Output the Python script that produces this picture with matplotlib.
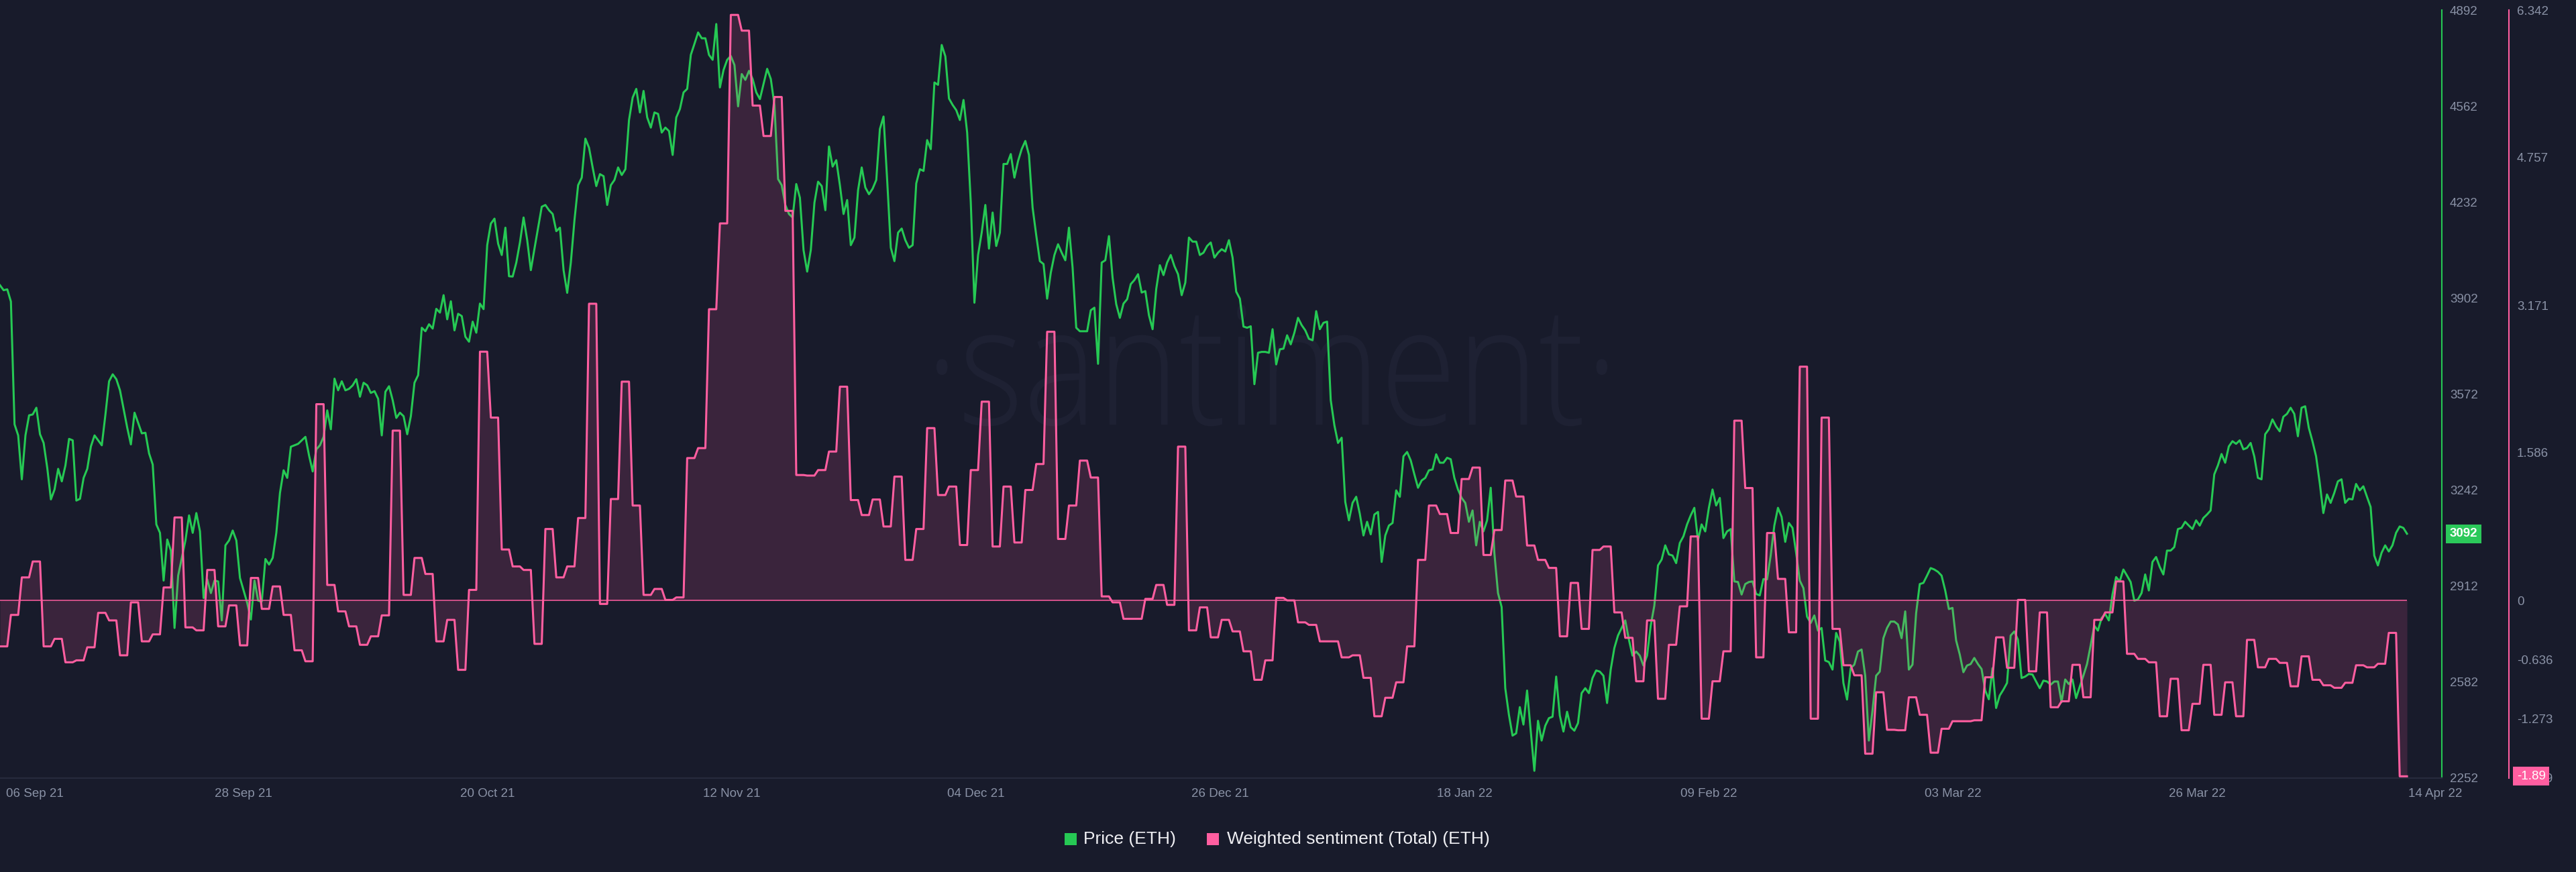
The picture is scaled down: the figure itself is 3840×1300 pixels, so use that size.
import numpy as np
import pandas as pd
import matplotlib
matplotlib.use("Agg")
import matplotlib.pyplot as plt
import matplotlib.dates as mdates
from matplotlib.textpath import TextPath
from matplotlib.font_manager import FontProperties
from matplotlib.patches import PathPatch, Rectangle
from matplotlib.transforms import Affine2D, IdentityTransform, blended_transform_factory

# ---------------- data ----------------
start_time = "2021-09-05 20:00"
step = "8h"

price = [
    3946, 3929, 3932, 3890, 3468, 3430, 3279, 3430, 3499, 3502,
    3525, 3434, 3404, 3318, 3210, 3244, 3315, 3272, 3327, 3418,
    3413, 3206, 3212, 3284, 3315, 3392, 3430, 3413, 3396, 3502,
    3616, 3640, 3623, 3585, 3520, 3456, 3399, 3508, 3473, 3437,
    3439, 3368, 3330, 3124, 3095, 2931, 3072, 3034, 2768, 2948,
    3009, 3069, 3155, 3095, 3163, 3100, 2871, 2935, 2888, 2931,
    2928, 2794, 3052, 3069, 3103, 3069, 2940, 2897, 2854, 2797,
    2931, 2862, 2859, 3005, 2986, 3009, 3095, 3232, 3310, 3284,
    3391, 3396, 3401, 3413, 3425, 3361, 3306, 3382, 3396, 3425,
    3516, 3451, 3625, 3585, 3616, 3585, 3590, 3602, 3623, 3563,
    3611, 3602, 3576, 3582, 3556, 3430, 3580, 3599, 3551, 3490,
    3508, 3496, 3434, 3496, 3611, 3637, 3800, 3788, 3812, 3797,
    3865, 3852, 3912, 3829, 3891, 3791, 3848, 3840, 3769, 3752,
    3821, 3783, 3883, 3864, 4084, 4158, 4175, 4089, 4050, 4144,
    3977, 3976, 4024, 4093, 4179, 4101, 3998, 4072, 4144, 4216,
    4222, 4204, 4191, 4132, 4144, 3998, 3920, 4024, 4170, 4290,
    4316, 4450, 4419, 4351, 4287, 4328, 4321, 4222, 4290,
    # ---
    4308, 4351, 4325, 4345, 4514, 4591, 4621, 4540, 4614,
    4523, 4488, 4540, 4535, 4471, 4488, 4476, 4394, 4523, 4552,
    4609, 4621, 4738, 4776, 4815, 4795, 4795, 4738, 4721, 4844,
    4626, 4686, 4721, 4734, 4703, 4561, 4672, 4652, 4683, 4655,
    4609, 4586, 4638, 4690, 4655, 4566, 4311, 4290, 4222, 4191,
    4179, 4294, 4247, 4067, 3993, 4067, 4230, 4302, 4287, 4204,
    4423, 4354, 4376, 4290, 4191, 4239, 4084, 4110, 4273, 4351,
    4282, 4259, 4278, 4308, 4483, 4526, 4308, 4075, 4029, 4127,
    4141, 4101, 4075, 4084, 4296, 4345, 4339, 4445, 4414, 4643,
    4635, 4772, 4733, 4588, 4566, 4548, 4514, 4583, 4471, 4230,
    3886, 4050, 4127, 4222, 4072, 4196, 4081, 4127, 4363, 4363,
    4397, 4316, 4373, 4414, 4442, 4394, 4213, 4118, 4029, 4019,
    3900, 3989, 4050, 4087, 4058, 4032, 4144, 4007, 3800, 3788,
    3788, 3788, 3860, 3869, 3676, 4024, 4032, 4115, 3972, 3881,
    3834, 3883, 3898, 3950, 3964, 3984, 3921, 3926, 3843, 3795,
    3933, 4015, 3981, 4024, 4050, 4012, 3984, 3912, 3955, 4110,
    4096, 4096, 4050, 4058, 4081, 4093, 4041,
    # ---
    4058, 4070, 4062, 4101, 4041, 3924, 3900, 3804, 3800, 3805,
    3606, 3714, 3717, 3717, 3714, 3795, 3674, 3726, 3728, 3774,
    3743, 3783, 3834, 3809, 3791, 3762, 3757, 3857, 3795, 3817,
    3821, 3551, 3465, 3404, 3422, 3201, 3138, 3198, 3219, 3160,
    3086, 3133, 3090, 3158, 3167, 2995, 3086, 3120, 3129, 3241,
    3219, 3358, 3373, 3344, 3296, 3250, 3275, 3284, 3310, 3313,
    3365, 3336, 3336, 3353, 3348, 3284, 3244, 3215, 3198, 3133,
    3172, 3052, 3133, 3100, 3138, 3250, 3026, 2888, 2840, 2561,
    2470, 2398, 2406, 2496, 2436, 2553, 2415, 2277, 2449, 2381,
    2432, 2458, 2463, 2601, 2467, 2412, 2480, 2427, 2415, 2441,
    2544, 2561, 2544, 2596, 2622, 2618, 2604, 2510, 2625, 2699,
    2742, 2768, 2794, 2728, 2673, 2687, 2673, 2639, 2673, 2776,
    2845, 2983, 3003, 3052, 3021, 3017, 2991, 3060, 3083, 3124,
    3155, 3181, 3069, 3124, 3100, 3181, 3244, 3189, 3215, 3077,
    3100, 3108, 2928, 2926, 2883, 2919, 2926, 2928, 2885, 2880,
    2936, 2935, 3017, 3120, 3181, 3150, 3064, 3129, 3112, 3026,
    2931, 2905, 2807, 2785, 2811, 2759,
    # ---
    2768, 2656, 2651, 2625, 2751, 2721, 2579, 2522, 2630, 2642,
    2687, 2694, 2604, 2381, 2484, 2604, 2618, 2733, 2768, 2790,
    2790, 2780, 2733, 2825, 2625, 2642, 2819, 2919, 2923, 2948,
    2974, 2969, 2961, 2948, 2897, 2833, 2837, 2725, 2677, 2616,
    2639, 2644, 2665, 2644, 2627, 2553, 2523, 2630, 2493, 2536,
    2556, 2579, 2742, 2756, 2728, 2596, 2601, 2610, 2608, 2584,
    2561, 2587, 2584, 2573, 2584, 2584, 2513, 2591, 2575, 2591,
    2527, 2566, 2604, 2644, 2708, 2776, 2759, 2802, 2816, 2794,
    2883, 2943, 2928, 2969, 2948, 2926, 2862, 2866, 2888, 2952,
    2897, 2995, 3012, 2978, 2952, 3034, 3034, 3046, 3108, 3112,
    3133, 3120, 3108, 3138, 3120, 3146, 3158, 3172, 3296, 3327,
    3366, 3336, 3392, 3410, 3401, 3413, 3382, 3387, 3404, 3358,
    3284, 3279, 3434, 3451, 3485, 3461, 3444, 3494, 3504, 3525,
    3504, 3427, 3525, 3530, 3456, 3410, 3358, 3267, 3163, 3227,
    3198, 3232, 3272, 3279, 3198, 3212, 3210, 3263, 3241, 3255,
    3219, 3184, 3017, 2983, 3026, 3052, 3031, 3052, 3095, 3117,
    3112, 3092,
]

# daily weighted sentiment (one value per day, held for each 8h step)
sentiment_daily = [
    -0.494, -0.156, 0.247, 0.418, -0.494, -0.413, -0.665, -0.644, -0.504, -0.134,
    -0.215, -0.590, -0.021, -0.440, -0.365, 0.139, 0.891, -0.290, -0.322, 0.327,
    -0.279, -0.054, -0.483, 0.241, -0.091, 0.150, -0.156, -0.536, -0.654, 2.108,
    0.166, -0.118, -0.279, -0.477, -0.386, -0.161, 1.824, 0.059, 0.456, 0.284,
    -0.440, -0.209, -0.746, 0.113, 2.672, 1.964, 0.547, 0.365, 0.327, -0.467,
    0.767, 0.247, 0.365, 0.885, 3.187, -0.038,
    1.089, 2.350, 1.019, 0.059, 0.123, 0.005, 0.032, 1.529, 1.636, 3.128,
    4.050, 6.290, 6.121, 5.316, 4.989, 5.408, 4.185, 1.347, 1.341, 1.400,
    1.599, 2.296, 1.078, 0.917, 1.084, 0.794, 1.330, 0.435, 0.767, 1.851,
    1.132, 1.223, 0.595, 1.400, 2.135, 0.579, 1.223, 0.622, 1.186, 1.465,
    2.886, 0.660, 1.019, 1.502, 1.320, 0.043, -0.021, -0.198, -0.198, 0.016,
    0.166, -0.048, 1.652, -0.322, -0.075, -0.397,
    -0.209, -0.333, -0.547, -0.853, -0.644, 0.027, 0.000, -0.236, -0.263, -0.440,
    -0.440, -0.612, -0.590, -0.832, -1.245, -1.046, -0.880, -0.494, 0.435, 1.019,
    0.928, 0.724, 1.304, 1.427, 0.488, 0.756, 1.288, 1.116, 0.590, 0.435,
    0.349, -0.386, 0.188, -0.306, 0.542, 0.579, -0.129, -0.402, -0.869, -0.215,
    -1.057, -0.477, -0.064, 0.687, -1.271, -0.869, -0.547, 1.931, 1.207, -0.612,
    0.724, 0.231, -0.343, 2.511, -1.271,
    1.964, -0.306, -0.697, -0.805, -1.647, -0.987, -1.390, -1.395, -1.041, -1.229,
    -1.636, -1.379, -1.298, -1.298, -1.288, -0.826, -0.397, -0.724, 0.005, -0.762,
    -0.129, -1.148, -1.084, -0.692, -1.041, -0.209, -0.129, 0.204, -0.574, -0.628,
    -0.665, -1.245, -0.842, -1.395, -1.111, -0.692, -1.229, -0.880, -1.245, -0.424,
    -0.719, -0.628, -0.671, -0.923, -0.601, -0.853, -0.912, -0.939, -0.885, -0.697,
    -0.719, -0.681, -0.349, -1.890,
]

price_ticks = [4892, 4562, 4232, 3902, 3572, 3242, 2912, 2582, 2252]
sent_ticks = [6.342, 4.757, 3.171, 1.586, 0, -0.636, -1.273, -1.909]
sent_tick_labels = ["6.342", "4.757", "3.171", "1.586", "0", "-0.636", "-1.273", "-1.909"]

x_labels = ["28 Sep 21", "20 Oct 21", "12 Nov 21", "04 Dec 21", "26 Dec 21",
            "18 Jan 22", "09 Feb 22", "03 Mar 22", "26 Mar 22"]
first_label = "06 Sep 21"
last_label = "14 Apr 22"
legend_labels = ["Price (ETH)", "Weighted sentiment (Total) (ETH)"]

# ---------------- style ----------------
BG = "#181b2b"
GREEN = "#26c954"
PINK = "#ff5ea0"
TICK = "#8a92a6"
AXLINE = "#272b3d"
WATER = "#1e2133"
FONT = "Liberation Sans"

W, H = 3840, 1300
PLOT_L, PLOT_R, PLOT_T, PLOT_B = 0, 3640, 15, 1160

t_price = pd.date_range(start_time, periods=len(price), freq=step)
sent = np.repeat(np.array(sentiment_daily), 3)
t_sent = pd.date_range(start_time, periods=len(sent), freq=step)

fig = plt.figure(figsize=(W / 100, H / 100), dpi=100, facecolor=BG)

# watermark
wm_prop = FontProperties(family="Open Sans", weight="light")
xh = TextPath((0, 0), "x", size=100, prop=wm_prop).get_extents().height
size = 100 * 131 / xh
tp = TextPath((0, 0), "\u00b7santiment\u00b7", size=size, prop=wm_prop)
ext = tp.get_extents()
fx = 1000 / ext.width
tr = Affine2D().translate(-ext.x0, 0).scale(fx, 1).translate(1396, H - 633)
wm = PathPatch(tr.transform_path(tp), facecolor=WATER, edgecolor="none",
               transform=IdentityTransform(), zorder=-1)
fig.add_artist(wm)

ax = fig.add_axes([PLOT_L / W, 1 - PLOT_B / H, (PLOT_R - PLOT_L) / W, (PLOT_B - PLOT_T) / H])
ax.set_facecolor("none")
ax2 = ax.twinx()
ax2.patch.set_visible(False)

# price
ax.plot(t_price, price, color=GREEN, lw=2.2, solid_joinstyle="round", zorder=3)
ax.set_ylim(price_ticks[-1], price_ticks[0])
ax.set_xlim(t_price[0], t_price[0] + pd.Timedelta(days=(PLOT_R - PLOT_L) / 16.26))

# sentiment
ax2.fill_between(t_sent, sent, 0, color=PINK, alpha=0.15, lw=0, zorder=1)
ax2.hlines(0, t_sent[0], t_sent[-1], color=PINK, lw=1.1, zorder=2)
ax2.plot(t_sent, sent, color=PINK, lw=2.2, zorder=3)
ax2.set_ylim(sent_ticks[-1], sent_ticks[0])

# spines
for s in ["top", "left"]:
    ax.spines[s].set_visible(False)
    ax2.spines[s].set_visible(False)
ax2.spines["bottom"].set_visible(False)
ax.spines["bottom"].set_color(AXLINE)
ax.spines["bottom"].set_linewidth(1.6)
ax.spines["right"].set_color(GREEN)
ax.spines["right"].set_linewidth(1.5)
ax2.spines["right"].set_color(PINK)
ax2.spines["right"].set_linewidth(1.5)
ax2.spines["right"].set_position(("outward", 72))

# y ticks
ax.yaxis.tick_right()
ax.set_yticks(price_ticks)
ax.set_yticklabels([str(v) for v in price_ticks])
ax.tick_params(axis="y", length=0, pad=8.6, labelcolor=TICK, labelsize=13.5)
ax2.set_yticks(sent_ticks)
ax2.set_yticklabels(sent_tick_labels)
ax2.tick_params(axis="y", length=0, pad=8.6, labelcolor=TICK, labelsize=13.5)
for lab in ax.get_yticklabels() + ax2.get_yticklabels():
    lab.set_fontfamily(FONT)

# x labels
ax.set_xticks([])
tick_times = pd.date_range("2021-09-28 04:00", periods=len(x_labels), freq=pd.Timedelta(hours=537.26))
btr = blended_transform_factory(ax.transData, ax.transAxes)
ylab = -(1184 - PLOT_B) / (PLOT_B - PLOT_T)
for tt, lab in zip(tick_times, x_labels):
    ax.text(mdates.date2num(tt), ylab, lab, transform=btr, ha="center", va="center",
            color=TICK, fontsize=13.5, family=FONT, clip_on=False)
ax.text(9 / (PLOT_R - PLOT_L), ylab, first_label, transform=ax.transAxes, ha="left", va="center",
        color=TICK, fontsize=13.5, family=FONT, clip_on=False)
ax.text(3630 / (PLOT_R - PLOT_L), ylab, last_label, transform=ax.transAxes, ha="center", va="center",
        color=TICK, fontsize=13.5, family=FONT, clip_on=False, zorder=1)

# last value boxes
btr_p = blended_transform_factory(ax.transAxes, ax.transData)
ax.text(1 + 12 / (PLOT_R - PLOT_L), price[-1], f"{price[-1]:.0f}", transform=btr_p,
        ha="left", va="center", color="white", fontsize=13.5, family=FONT, weight="bold",
        bbox=dict(boxstyle="square,pad=0.3", fc="#2bc95a", ec="none"), clip_on=False, zorder=10)
btr_s = blended_transform_factory(ax2.transAxes, ax2.transData)
ax2.text(1 + 112 / (PLOT_R - PLOT_L), sentiment_daily[-1], f"{sentiment_daily[-1]:.2f}", transform=btr_s,
         ha="left", va="center", color="white", fontsize=13.5, family=FONT,
         bbox=dict(boxstyle="square,pad=0.3", fc=PINK, ec="none"), clip_on=False, zorder=10)

# legend
ly = H - 1251
fig.add_artist(Rectangle((1587, ly - 9), 18, 18, facecolor=GREEN, edgecolor="none",
                         transform=IdentityTransform()))
fig.text(1615 / W, ly / H, legend_labels[0], ha="left", va="center", color="#eeeef2",
         fontsize=19, family=FONT)
fig.add_artist(Rectangle((1799, ly - 9), 18, 18, facecolor=PINK, edgecolor="none",
                         transform=IdentityTransform()))
fig.text(1829 / W, ly / H, legend_labels[1], ha="left", va="center", color="#eeeef2",
         fontsize=19, family=FONT)

fig.savefig("out.png", dpi=100, facecolor=BG)
